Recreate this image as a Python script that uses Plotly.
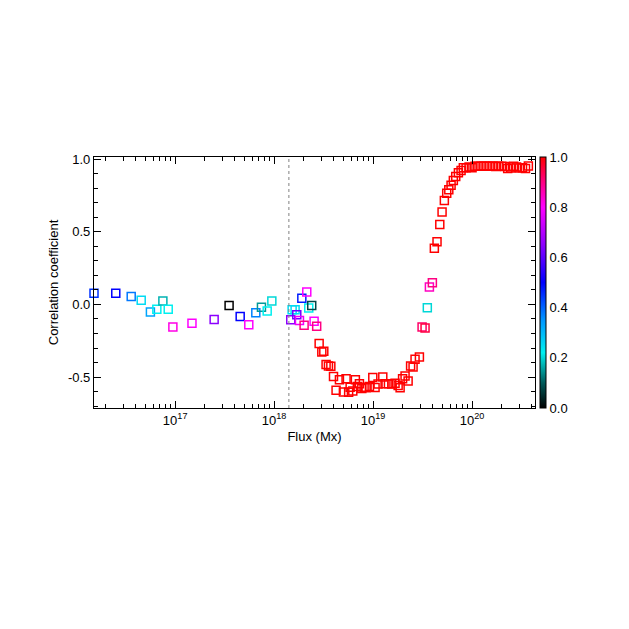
import plotly.graph_objects as go

# log10 of flux (Mx)
log_flux = [
    16.18, 16.40, 16.556, 16.657, 16.75, 16.815, 16.876, 16.93, 16.977, 17.17,
    17.394, 17.545, 17.657, 17.744, 17.815, 17.872, 17.93, 17.977,
    18.168, 18.182, 18.212, 18.229, 18.256, 18.28, 18.303, 18.33, 18.35, 18.38, 18.404, 18.43,
    18.455, 18.482, 18.502, 18.525, 18.549, 18.573, 18.60, 18.626, 18.66, 18.70,
    18.727, 18.753, 18.768, 18.795, 18.821, 18.841, 18.862, 18.886, 18.909, 18.929,
    18.963, 18.997, 19.02, 19.05, 19.098, 19.121, 19.155, 19.189, 19.222, 19.253,
    19.273, 19.298, 19.323, 19.354, 19.379, 19.404, 19.424, 19.468,
    19.495, 19.525, 19.548, 19.569, 19.599, 19.619, 19.646, 19.674, 19.697, 19.72,
    19.744, 19.765, 19.788, 19.811, 19.835, 19.862, 19.889, 19.912,
    19.94, 19.97, 20.00, 20.03, 20.06, 20.09, 20.12, 20.15, 20.18, 20.21,
    20.24, 20.27, 20.30, 20.33, 20.36, 20.39, 20.42, 20.45, 20.48, 20.51, 20.54, 20.569,
]

correlation = [
    0.076, 0.076, 0.055, 0.028, -0.053, -0.034, 0.023, -0.034, -0.156, -0.129,
    -0.103, -0.007, -0.083, -0.14, -0.057, -0.019, -0.046, 0.023,
    -0.105, -0.036, -0.036, -0.071, -0.11, 0.043, -0.144, 0.085, -0.025, -0.007, -0.115, -0.151,
    -0.268, -0.327, -0.323, -0.413, -0.423, -0.426, -0.495, -0.591, -0.518, -0.603,
    -0.511, -0.605, -0.569, -0.595, -0.518, -0.564, -0.545, -0.578, -0.569, -0.573,
    -0.564, -0.502, -0.571, -0.547, -0.499, -0.545, -0.545, -0.548, -0.543, -0.557,
    -0.573, -0.512, -0.492, -0.526, -0.423, -0.43, -0.377, -0.362,
    -0.156, -0.163, -0.023, 0.119, 0.149, 0.387, 0.431, 0.55, 0.635, 0.715,
    0.765, 0.789, 0.82, 0.853, 0.88, 0.906, 0.922, 0.94,
    0.94, 0.945, 0.94, 0.95, 0.951, 0.95, 0.952, 0.95, 0.95, 0.952,
    0.948, 0.95, 0.951, 0.948, 0.935, 0.938, 0.95, 0.945, 0.938, 0.94, 0.935, 0.952,
]

color_value = [
    0.45, 0.5, 0.38, 0.25, 0.33, 0.22, 0.17, 0.22, 0.82, 0.8,
    0.65, 0.0, 0.5, 0.8, 0.37, 0.15, 0.22, 0.2,
    0.65, 0.25, 0.25, 0.62, 0.78, 0.47, 0.9, 0.8, 0.22, 0.08, 0.8, 0.9,
] + [1.0] * 38 + [0.92, 0.95, 0.2, 0.85, 0.9] + [1.0] * 35

x_tick_vals = [1e17, 1e18, 1e19, 1e20]
x_tick_text = ["10<sup>17</sup>", "10<sup>18</sup>", "10<sup>19</sup>", "10<sup>20</sup>"]
y_tick_vals = [-0.5, 0.0, 0.5, 1.0]
y_tick_text = ["-0.5", "0.0", "0.5", "1.0"]
cbar_tick_vals = [0.0, 0.2, 0.4, 0.6, 0.8, 1.0]
cbar_tick_text = ["0.0", "0.2", "0.4", "0.6", "0.8", "1.0"]
threshold_flux = 1.41e18

flux = [10.0 ** v for v in log_flux]

colorscale = [
    [0.0, "rgb(0,0,0)"],
    [0.1, "rgb(0,90,90)"],
    [0.22, "rgb(0,240,240)"],
    [0.35, "rgb(0,150,255)"],
    [0.5, "rgb(0,0,255)"],
    [0.65, "rgb(140,0,255)"],
    [0.8, "rgb(255,0,255)"],
    [0.9, "rgb(255,0,130)"],
    [1.0, "rgb(255,0,0)"],
]

minor_x = []
for k in range(16, 21):
    for m in range(2, 10):
        minor_x.append(float(m) * 10.0 ** k)

fig = go.Figure()
fig.add_trace(go.Scatter(
    x=flux, y=correlation, mode="markers",
    marker=dict(
        symbol="square-open", size=8, color=color_value,
        colorscale=colorscale, cmin=0, cmax=1,
        line=dict(width=1.5),
        colorbar=dict(
            thickness=6, len=1.0, lenmode="fraction", y=0.5, yanchor="middle",
            x=1.011, xanchor="left", xpad=0, ypad=0,
            outlinecolor="black", outlinewidth=1,
            tickvals=cbar_tick_vals, ticktext=cbar_tick_text,
            ticks="", tickfont=dict(size=13, color="black"),
        ),
    ),
    cliponaxis=False, showlegend=False,
))

fig.add_shape(type="line", xref="x", yref="paper", x0=threshold_flux, x1=threshold_flux,
              y0=0, y1=1, line=dict(color="gray", width=1, dash="dot"))

fig.update_xaxes(
    type="log", range=[16.18, 20.636],
    tickmode="array", tickvals=x_tick_vals, ticktext=x_tick_text,
    ticks="inside", ticklen=7, tickwidth=1, tickcolor="black",
    minor=dict(tickmode="array", tickvals=minor_x, ticks="inside", ticklen=4, tickcolor="black", showgrid=False),
    showline=True, linecolor="black", linewidth=1.2, mirror="ticks",
    showgrid=False, zeroline=False,
    title=dict(text="Flux (Mx)", font=dict(size=13, color="black"), standoff=5),
    tickfont=dict(size=13, color="black"),
)
fig.update_yaxes(
    range=[-0.7125, 1.014],
    tickmode="array", tickvals=y_tick_vals, ticktext=y_tick_text,
    ticks="inside", ticklen=7, tickwidth=1, tickcolor="black",
    minor=dict(dtick=0.1, ticks="inside", ticklen=4, tickcolor="black", showgrid=False),
    showline=True, linecolor="black", linewidth=1.2, mirror="ticks",
    showgrid=False, zeroline=False,
    title=dict(text="Correlation coefficient", font=dict(size=13, color="black"), standoff=6),
    tickfont=dict(size=13, color="black"),
)

fig.update_layout(
    width=621, height=621,
    margin=dict(l=86, r=94, t=149, b=221),
    paper_bgcolor="white", plot_bgcolor="white",
    font=dict(family="Liberation Sans, Arial, sans-serif", size=13, color="black"),
)

fig.write_html("out.html")
